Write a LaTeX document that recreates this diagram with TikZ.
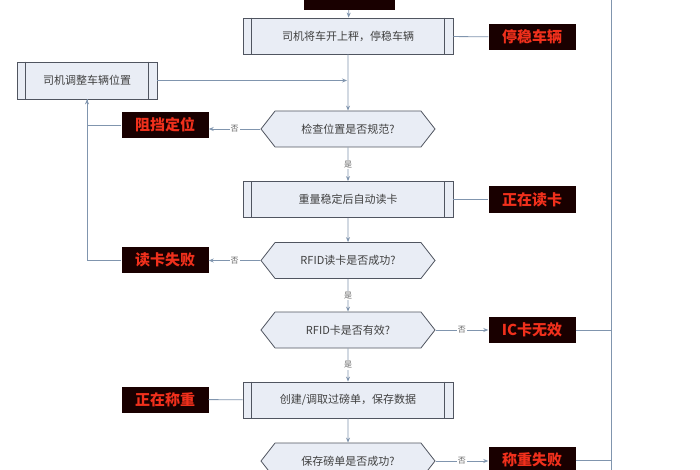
\documentclass[tikz,border=0pt]{standalone}
\usepackage{fontspec}
\setmainfont{Noto Sans CJK SC}
\usetikzlibrary{shapes.symbols,arrows.meta}
\definecolor{ln}{HTML}{8095AE}
\definecolor{bx}{HTML}{E9EDF5}
\definecolor{bd}{HTML}{505560}
\definecolor{led}{HTML}{F0301C}
\tikzset{
 proc/.style={draw=bd,fill=bx,line width=0.8pt,minimum width=210pt,minimum height=36pt,font=\fontsize{11}{13}\selectfont,text=black!75},
 dec/.style={draw=bd,fill=bx,line width=0.8pt,signal,signal to=east and west,signal pointer angle=104,minimum width=174pt,minimum height=36pt,inner sep=0pt,font=\fontsize{11}{13}\selectfont,text=black!75},
 lab/.style={fill=black!90!red,minimum width=87pt,minimum height=26pt,inner sep=0pt,text=led,font=\fontsize{15}{16}\bfseries\selectfont},
 con/.style={draw=ln,line width=0.8pt},
 arr/.style={con,-{Stealth[length=5pt,width=4pt]}},
 yn/.style={fill=white,font=\fontsize{8}{9}\selectfont,text=black!60,inner sep=1pt}
}
\begin{document}
\begin{tikzpicture}[x=1pt,y=1pt]
\useasboundingbox (0,0) rectangle (700,-470);
\fill[white] (0,0) rectangle (700,-470);
\draw[con] (611,0) -- (611,-470);
\node[fill=black!90!red,minimum width=91pt,minimum height=12pt,inner sep=0pt] (top) at (349,-4) {};
\node[proc] (b1) at (348,-36) {司机将车开上秤，停稳车辆};
\node[proc,minimum width=140pt,minimum height=37pt] (b0) at (87,-80.5) {司机调整车辆位置};
\node[dec] (d1) at (348,-129) {检查位置是否规范?};
\node[proc] (b2) at (348,-199.5) {重量稳定后自动读卡};
\node[dec] (d2) at (348,-260.5) {RFID读卡是否成功?};
\node[dec] (d3) at (348,-330) {RFID卡是否有效?};
\node[proc] (b3) at (348,-400) {创建/调取过磅单，保存数据};
\node[dec] (d4) at (348,-461) {保存磅单是否成功?};
\node[lab] (l1) at (532,-37) {停稳车辆};
\node[lab] (l2) at (165,-125) {阻挡定位};
\node[lab] (l3) at (532,-199.5) {正在读卡};
\node[lab] (l4) at (165,-260) {读卡失败};
\node[lab] (l5) at (532,-330) {IC卡无效};
\node[lab] (l6) at (165,-399.5) {正在称重};
\node[lab] (l7) at (532,-460) {称重失败};
\foreach \b in {b1,b2,b3,b0}{
 \draw[bd,line width=0.8pt] ([xshift=9pt]\b.north west) -- ([xshift=9pt]\b.south west);
 \draw[bd,line width=0.8pt] ([xshift=-9pt]\b.north east) -- ([xshift=-9pt]\b.south east);
}
\coordinate (m) at (348,-80.5);
\draw[arr] (top) -- (b1);
\draw[arr] (b0) -- ([xshift=-1pt]m);
\draw[arr] (b1) -- (d1);
\draw[con] (b1) -- (l1);
\draw[arr] (d1.west) -- node[yn]{否} (l2.east |- d1.west);
\draw[arr] (l2.west) -| (b0.south);
\draw[arr] (d1) -- node[yn]{是} (b2);
\draw[con] (b2) -- (l3);
\draw[arr] (b2) -- (d2);
\draw[arr] (d2.west) -- node[yn]{否} (l4.east |- d2.west);
\draw[con] (l4.west) -| (b0.south);
\draw[arr] (d2) -- node[yn]{是} (d3);
\draw[arr] (d3.east) -- node[yn]{否} (l5.west |- d3.east);
\draw[con] (l5.east) -- (611,-330);
\draw[arr] (d3) -- node[yn]{是} (b3);
\draw[con] (l6) -- (b3);
\draw[arr] (b3) -- (d4);
\draw[arr] (d4.east) -- node[yn]{否} (l7.west |- d4.east);
\draw[con] (l7.east) -- (611,-460);
\end{tikzpicture}
\end{document}
